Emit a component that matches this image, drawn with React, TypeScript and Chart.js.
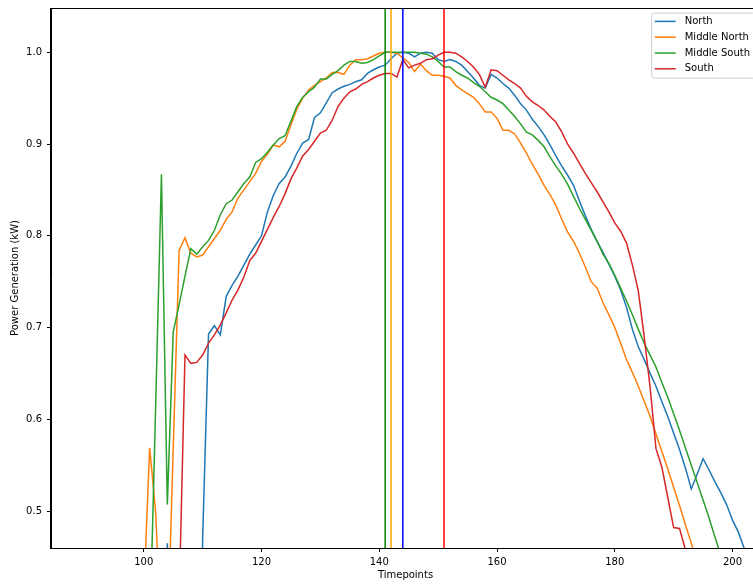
import React, { useEffect, useRef } from 'react';
import { Chart, registerables } from 'chart.js';

Chart.register(...registerables);

// ---------- data ----------
const TIMEPOINTS = [
  99, 100, 101, 102, 103, 104, 105, 106, 107, 108, 109,
  110, 111, 112, 113, 114, 115, 116, 117, 118, 119,
  120, 121, 122, 123, 124, 125, 126, 127, 128, 129,
  130, 131, 132, 133, 134, 135, 136, 137, 138, 139,
  140, 141, 142, 143, 144, 145, 146, 147, 148, 149,
  150, 151, 152, 153, 154, 155, 156, 157, 158, 159,
  160, 161, 162, 163, 164, 165, 166, 167, 168, 169,
  170, 171, 172, 173, 174, 175, 176, 177, 178, 179,
  180, 181, 182, 183, 184, 185, 186, 187, 188, 189,
  190, 191, 192, 193, 194, 195, 196, 197, 198, 199,
  200, 201, 202, 203,
];

const NORTH = [
  0, 0, 0, 0, 0, 0.465, 0, 0, 0, 0, 0,
  0.47, 0.693, 0.702, 0.692, 0.734, 0.746, 0.756, 0.768, 0.78, 0.79,
  0.8, 0.826, 0.844, 0.857, 0.864, 0.876, 0.89, 0.901, 0.905, 0.929,
  0.934, 0.945, 0.956, 0.96, 0.963, 0.965, 0.968, 0.97, 0.977, 0.981,
  0.984, 0.986, 0.993, 0.999, 1.0, 0.999, 0.995, 0.999, 1.0, 0.999,
  0.992, 0.99, 0.992, 0.99, 0.986, 0.979, 0.972, 0.964, 0.961, 0.976,
  0.972, 0.966, 0.961, 0.953, 0.944, 0.937, 0.927, 0.919, 0.91, 0.899,
  0.887, 0.876, 0.866, 0.855, 0.838, 0.822, 0.807, 0.794, 0.782, 0.769,
  0.756, 0.741, 0.722, 0.698, 0.679, 0.665, 0.65, 0.636, 0.619, 0.603,
  0.585, 0.567, 0.547, 0.524, 0.54, 0.557, 0.545, 0.532, 0.52, 0.507,
  0.49, 0.477, 0.459, 0.445,
];

const MIDDLE_NORTH = [
  0, 0.41, 0.569, 0.5, 0.36, 0.35, 0.568, 0.784, 0.798, 0.781, 0.777,
  0.779, 0.788, 0.797, 0.806, 0.818, 0.826, 0.841, 0.85, 0.859, 0.868,
  0.881, 0.889, 0.899, 0.897, 0.903, 0.921, 0.938, 0.95, 0.959, 0.964,
  0.968, 0.972, 0.978, 0.978, 0.976, 0.986, 0.992, 0.992, 0.993, 0.996,
  0.999, 1.0, 1.0, 0.999, 0.994, 0.989, 0.979, 0.987, 0.98, 0.975,
  0.975, 0.974, 0.972, 0.964, 0.959, 0.955, 0.951, 0.944, 0.935, 0.935,
  0.928, 0.915, 0.915, 0.911, 0.901, 0.89, 0.878, 0.867, 0.855, 0.845,
  0.833, 0.818, 0.804, 0.794, 0.781, 0.766, 0.75, 0.743, 0.727, 0.714,
  0.7, 0.683, 0.665, 0.651, 0.636, 0.62, 0.603, 0.584, 0.565, 0.546,
  0.526, 0.506, 0.485, 0.465, 0.445, null, null, null, null, null,
  null, null, null, null,
];

const MIDDLE_SOUTH = [
  0, 0, 0.36, 0.61, 0.867, 0.507, 0.695, 0.725, 0.756, 0.786, 0.78,
  0.788, 0.795, 0.806, 0.823, 0.835, 0.839, 0.848, 0.857, 0.864, 0.88,
  0.884, 0.891, 0.899, 0.906, 0.909, 0.925, 0.941, 0.951, 0.957, 0.962,
  0.971, 0.971, 0.976, 0.98, 0.986, 0.99, 0.99, 0.988, 0.989, 0.992,
  0.996, 1.0, 1.0, 1.0, 1.0, 1.0, 1.0, 0.999, 0.998, 0.995,
  0.99, 0.984, 0.984, 0.979, 0.975, 0.972, 0.967, 0.963, 0.957, 0.951,
  0.948, 0.944, 0.937, 0.93, 0.922, 0.913, 0.91, 0.904, 0.897, 0.886,
  0.876, 0.867, 0.856, 0.843, 0.83, 0.818, 0.806, 0.794, 0.78, 0.77,
  0.757, 0.743, 0.729, 0.714, 0.698, 0.683, 0.67, 0.657, 0.64, 0.624,
  0.606, 0.588, 0.569, 0.55, 0.531, 0.512, 0.493, 0.472, 0.452, null,
  null, null, null, null,
];

const SOUTH = [
  0, 0, 0, 0, 0, 0, 0, 0.4, 0.67, 0.661, 0.662,
  0.67, 0.683, 0.692, 0.703, 0.716, 0.73, 0.741, 0.755, 0.773, 0.781,
  0.794, 0.807, 0.82, 0.832, 0.846, 0.862, 0.874, 0.887, 0.894, 0.903,
  0.912, 0.915, 0.926, 0.941, 0.95, 0.957, 0.96, 0.965, 0.968, 0.972,
  0.975, 0.977, 0.977, 0.973, 0.992, 0.983, 0.986, 0.988, 0.992, 0.993,
  0.997, 1.0, 1.0, 0.999, 0.995, 0.99, 0.984, 0.976, 0.962, 0.981,
  0.98, 0.975, 0.97, 0.966, 0.961, 0.952, 0.946, 0.942, 0.937, 0.93,
  0.924, 0.913, 0.9, 0.89, 0.879, 0.868, 0.858, 0.848, 0.837, 0.826,
  0.814, 0.805, 0.792, 0.768, 0.74, 0.69, 0.635, 0.568, 0.548, 0.515,
  0.482, 0.481, 0.458, 0.42, null, null, null, null, null, null,
  null, null, null, null,
];

const SERIES_LABELS = ['North', 'Middle North', 'Middle South', 'South'];
const SERIES_COLORS = ['#1f77b4', '#ff7f0e', '#2ca02c', '#d62728'];

// time of each region's peak (vertical markers)
const PEAK_TIMES = [141, 142, 144, 151];
const PEAK_COLORS = ['#008000', '#ffa500', '#0000ff', '#ff0000'];

const X_TICKS = [100, 120, 140, 160, 180, 200];
const Y_TICKS = [0.5, 0.6, 0.7, 0.8, 0.9, 1.0];
const X_MIN = 84.24;
const X_MAX = 204.67;
const Y_MIN = 0.4597;
const Y_MAX = 1.0483;

const X_TITLE = 'Timepoints';
const Y_TITLE = 'Power Generation (kW)';

// ---------- chart ----------
const FONT = { family: 'DejaVu Sans', size: 10 };

const toPoints = (vals: (number | null)[]) =>
  TIMEPOINTS.map((t, i) => ({ x: t, y: vals[i] }));

const framePlugin = {
  id: 'frame',
  afterDatasetsDraw(chart: any) {
    const { ctx, chartArea: a } = chart;
    ctx.save();
    ctx.strokeStyle = '#000';
    ctx.lineWidth = 1;
    const l = Math.round(a.left) - 0.5;
    const t = Math.round(a.top) + 0.5;
    const r = Math.round(a.right) - 0.5;
    const b = Math.round(a.bottom) + 0.5;
    ctx.strokeRect(l, t, r - l, b - t);
    ctx.restore();
  },
};

const legendPlugin = {
  id: 'mplLegend',
  afterDraw(chart: any) {
    const { ctx, chartArea: a } = chart;
    const items = chart.data.datasets.filter((d: any) => d.inLegend);
    ctx.save();
    ctx.font = `${FONT.size}px "${FONT.family}"`;
    let maxW = 0;
    items.forEach((d: any) => {
      maxW = Math.max(maxW, ctx.measureText(d.label).width);
    });
    const right = a.right - 5;
    const top = a.top + 5;
    const width = 33 + maxW + 5;
    const left = right - width;
    const rowH = 15.8;
    const height = 8.4 + rowH * (items.length - 1) + 9.4;
    const rad = 2.5;
    ctx.beginPath();
    ctx.moveTo(left + rad, top);
    ctx.lineTo(right - rad, top);
    ctx.arcTo(right, top, right, top + rad, rad);
    ctx.lineTo(right, top + height - rad);
    ctx.arcTo(right, top + height, right - rad, top + height, rad);
    ctx.lineTo(left + rad, top + height);
    ctx.arcTo(left, top + height, left, top + height - rad, rad);
    ctx.lineTo(left, top + rad);
    ctx.arcTo(left, top, left + rad, top, rad);
    ctx.closePath();
    ctx.fillStyle = 'rgba(255,255,255,0.8)';
    ctx.fill();
    ctx.strokeStyle = '#cccccc';
    ctx.lineWidth = 1;
    ctx.stroke();
    items.forEach((d: any, i: number) => {
      const cy = top + 8.4 + i * rowH;
      ctx.beginPath();
      ctx.strokeStyle = d.borderColor;
      ctx.lineWidth = 1.5;
      ctx.moveTo(left + 3, cy);
      ctx.lineTo(left + 24, cy);
      ctx.stroke();
      ctx.fillStyle = '#000';
      ctx.textBaseline = 'middle';
      ctx.textAlign = 'left';
      ctx.fillText(d.label, left + 33, cy);
    });
    ctx.restore();
  },
};

export default function App() {
  const ref = useRef<HTMLCanvasElement>(null);

  useEffect(() => {
    if (!ref.current) return;
    const seriesVals = [NORTH, MIDDLE_NORTH, MIDDLE_SOUTH, SOUTH];
    const seriesSets = seriesVals.map((vals, i) => ({
      label: SERIES_LABELS[i],
      data: toPoints(vals),
      borderColor: SERIES_COLORS[i],
      backgroundColor: SERIES_COLORS[i],
      borderWidth: 1.5,
      pointRadius: 0,
      tension: 0,
      spanGaps: false,
      inLegend: true,
      order: 10 - i,
    }));
    const peakSets = PEAK_TIMES.map((t, i) => ({
      label: 'peak ' + t,
      data: [
        { x: t, y: Y_MIN },
        { x: t, y: Y_MAX },
      ],
      borderColor: PEAK_COLORS[i],
      backgroundColor: PEAK_COLORS[i],
      borderWidth: 1.5,
      pointRadius: 0,
      inLegend: false,
      order: 4 - i,
    }));

    const chart = new Chart(ref.current, {
      type: 'line',
      data: { datasets: [...seriesSets, ...peakSets] as any },
      options: {
        responsive: false,
        animation: false,
        devicePixelRatio: 1,
        layout: { padding: { top: 8, right: 5, left: 0, bottom: 0 } },
        plugins: {
          legend: { display: false },
          tooltip: { enabled: false },
        },
        scales: {
          x: {
            type: 'linear',
            min: X_MIN,
            max: X_MAX,
            afterFit: (s: any) => {
              s.height = 36;
              s.paddingLeft = 0;
              s.paddingRight = 0;
            },
            afterBuildTicks: (s: any) => {
              s.ticks = X_TICKS.map((v) => ({ value: v }));
            },
            grid: {
              drawOnChartArea: false,
              drawTicks: true,
              tickLength: 4,
              tickColor: '#000',
              lineWidth: 1,
            },
            border: { display: true, color: '#000', width: 1 },
            ticks: {
              font: FONT,
              color: '#000',
              padding: 4,
              maxRotation: 0,
              autoSkip: false,
              callback: (v: any) => String(v),
            },
            title: {
              display: true,
              text: X_TITLE,
              font: FONT,
              color: '#000',
              padding: { top: 0, bottom: 3 },
            },
          },
          y: {
            type: 'linear',
            min: Y_MIN,
            max: Y_MAX,
            afterFit: (s: any) => {
              s.width = 51;
              s.paddingTop = 0;
              s.paddingBottom = 0;
            },
            afterBuildTicks: (s: any) => {
              s.ticks = Y_TICKS.map((v) => ({ value: v }));
            },
            grid: {
              drawOnChartArea: false,
              drawTicks: true,
              tickLength: 4,
              tickColor: '#000',
              lineWidth: 1,
            },
            border: { display: true, color: '#000', width: 1 },
            ticks: {
              font: FONT,
              color: '#000',
              padding: 5,
              autoSkip: false,
              callback: (v: any) => Number(v).toFixed(1),
            },
            title: {
              display: true,
              text: Y_TITLE,
              font: FONT,
              color: '#000',
              padding: { top: 9, bottom: 0 },
            },
          },
        },
      } as any,
      plugins: [framePlugin, legendPlugin],
    });
    return () => chart.destroy();
  }, []);

  return (
    <div
      style={{
        position: 'fixed',
        left: 0,
        top: 0,
        width: 753,
        height: 584,
        overflow: 'hidden',
        background: '#fff',
      }}
    >
      <canvas ref={ref} width={765} height={584} style={{ display: 'block' }} />
    </div>
  );
}
